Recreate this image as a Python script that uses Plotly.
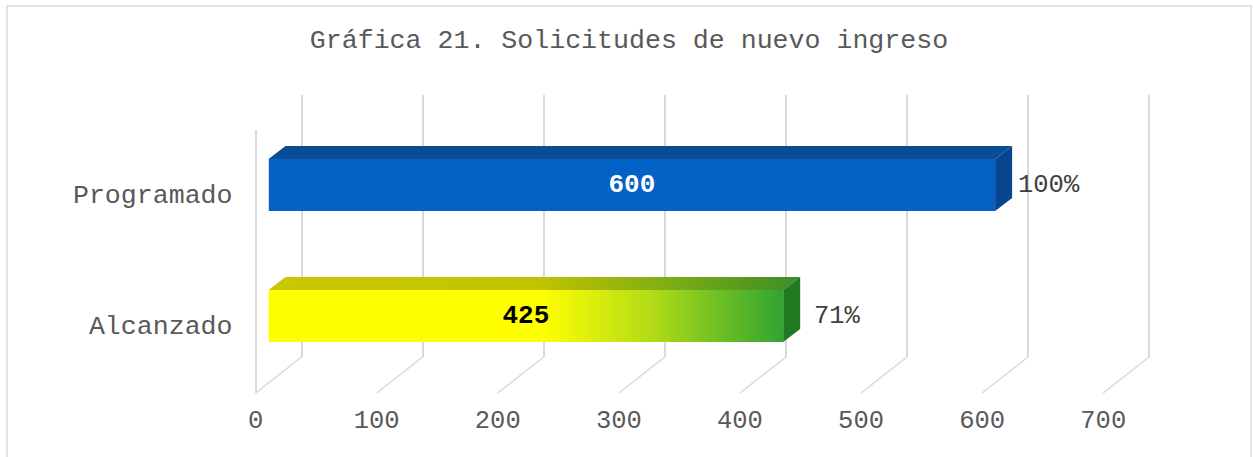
import plotly.graph_objects as go

# ---------------- data ----------------
categories = ["Programado", "Alcanzado"]
values = [600, 425]
value_ticks = [0, 100, 200, 300, 400, 500, 600, 700]
title_text = "Gráfica 21. Solicitudes de nuevo ingreso"

# ---------------- geometry (pixels) ----------------
W, H = 1253, 457
VMAX = 700
PX = 849 / VMAX          # pixels per value unit
ROW = 131                # pixels between category rows
FRONT_LEFT, BAR_LEFT, BACK_LEFT = 254, 267, 300
FRONT_TOP, FRONT_FLOOR = 130, 393
BACK_TOP, BACK_FLOOR = 95, 357
FRONT_ROW0, BAR_ROW0 = 325, 316
BAR_THICK, BAR_DX, BAR_DY = 52, 17, 13
PAD = 6

FONT = "Liberation Mono"
GRAY = "#595959"
GRID = "#d9d9d9"

# styles per bar (front, top, side) ; gradients for the second bar
front_colors = ["#0462c7", "#ffff00"]
top_colors = ["#0a4d97", None]
side_colors = ["#08458f", "#1f7a22"]
front_grad = [None, [[0, "#ffff00"], [0.53, "#ffff00"], [0.74, "#b4dc16"], [1, "#30a431"]]]
top_grad = [None, [[0, "#c9c700"], [0.5, "#c2c300"], [0.75, "#7fae14"], [1, "#3d8c27"]]]
value_text_colors = ["white", "black"]


def xdom(l, r):
    return [l / W, r / W]


def ydom(top, bottom):
    return [1 - bottom / H, 1 - top / H]


def yrng(top, bottom, row0):
    return [(row0 - bottom) / ROW, (row0 - top) / ROW]


ypos = [len(categories) - 1 - i for i in range(len(categories))]
h = BAR_THICK / ROW
ddx = BAR_DX / PX
ddy = BAR_DY / ROW
depth = (BACK_LEFT - FRONT_LEFT) / PX

fig = go.Figure()

# back wall (gridlines) subplot
fig.add_trace(go.Scatter(x=[], y=[], xaxis="x", yaxis="y", showlegend=False, hoverinfo="skip"))

# bars (front faces)
fig.add_trace(go.Bar(
    x=values, y=ypos, orientation="h", width=h,
    marker=dict(color=front_colors, line=dict(width=0)),
    xaxis="x2", yaxis="y2", showlegend=False, hoverinfo="skip",
))

# 3D faces
for i, v in enumerate(values):
    y = ypos[i]
    yt, yb = y + h / 2, y - h / 2
    # top face
    top = dict(
        x=[0, v, v + ddx, ddx, 0], y=[yt, yt, yt + ddy, yt + ddy, yt],
        fill="toself", mode="lines", line=dict(width=0),
        xaxis="x2", yaxis="y2", showlegend=False, hoverinfo="skip",
    )
    if top_grad[i]:
        top["fillgradient"] = dict(type="horizontal", colorscale=top_grad[i])
        top["fillcolor"] = top_grad[i][0][1]
    else:
        top["fillcolor"] = top_colors[i]
    fig.add_trace(go.Scatter(**top))
    # right face
    fig.add_trace(go.Scatter(
        x=[v, v, v + ddx, v + ddx, v], y=[yb, yt, yt + ddy, yb + ddy, yb],
        fill="toself", mode="lines", line=dict(width=0), fillcolor=side_colors[i],
        xaxis="x2", yaxis="y2", showlegend=False, hoverinfo="skip",
    ))
    # gradient front face
    if front_grad[i]:
        fig.add_trace(go.Scatter(
            x=[0, v, v, 0, 0], y=[yb, yb, yt, yt, yb],
            fill="toself", mode="lines", line=dict(width=0),
            fillcolor=front_grad[i][0][1],
            fillgradient=dict(type="horizontal", colorscale=front_grad[i]),
            xaxis="x2", yaxis="y2", showlegend=False, hoverinfo="skip",
        ))

# value labels
fig.add_trace(go.Scatter(
    x=[v / 2 for v in values], y=ypos, mode="text",
    text=[str(v) for v in values],
    textfont=dict(family=FONT, size=26, color=value_text_colors, weight="bold"),
    xaxis="x2", yaxis="y2", showlegend=False, hoverinfo="skip",
))

# front plane subplot
fig.add_trace(go.Scatter(x=[], y=[], xaxis="x3", yaxis="y3", showlegend=False, hoverinfo="skip"))

# percentage annotations
annotations = []
for i, v in enumerate(values):
    annotations.append(dict(
        xref="x2", yref="y2", x=v + ddx, y=ypos[i], xshift=37,
        text=f"{round(v / values[0] * 100)}%", showarrow=False,
        xanchor="center", yanchor="middle",
        font=dict(family=FONT, size=25.5, color="#404040"),
    ))

# floor diagonals
shapes = []
floor_frac = (FRONT_FLOOR - BACK_FLOOR) / (FRONT_FLOOR - FRONT_TOP)
for t in value_ticks:
    shapes.append(dict(
        type="line", xref="x3", yref="y3 domain",
        x0=t, y0=0, x1=t + depth, y1=floor_frac,
        line=dict(color=GRID, width=1.5), layer="below",
    ))
# outer border
shapes.append(dict(
    type="rect", xref="paper", yref="paper",
    x0=5 / W, x1=1251 / W, y0=-0.1, y1=1 - 6 / H,
    line=dict(color=GRID, width=1.5),
))

front_r = BACK_LEFT + VMAX * PX + PAD
fig.update_layout(
    width=W, height=H,
    margin=dict(l=0, r=0, t=0, b=0),
    paper_bgcolor="white", plot_bgcolor="rgba(0,0,0,0)",
    font=dict(family=FONT, color=GRAY),
    title=dict(
        text=title_text, x=629 / W, y=1 - 39 / H, xanchor="center", yanchor="middle",
        font=dict(family=FONT, size=26.6, color=GRAY),
    ),
    showlegend=False,
    barmode="overlay",
    xaxis=dict(
        domain=xdom(BACK_LEFT - PAD, BACK_LEFT + VMAX * PX + PAD),
        range=[-PAD / PX, VMAX + PAD / PX], anchor="y",
        tickvals=value_ticks, showgrid=True, gridcolor=GRID, gridwidth=1.5,
        showticklabels=False, zeroline=False, showline=False, ticks="",
    ),
    yaxis=dict(domain=ydom(BACK_TOP, BACK_FLOOR), range=[0, 1], visible=False, anchor="x"),
    xaxis2=dict(
        domain=xdom(BAR_LEFT, BAR_LEFT + VMAX * PX), range=[0, VMAX],
        visible=False, anchor="y2",
    ),
    yaxis2=dict(
        domain=ydom(100, 385), range=yrng(100, 385, BAR_ROW0), visible=False, anchor="x2",
    ),
    xaxis3=dict(
        domain=xdom(FRONT_LEFT - PAD, front_r),
        range=[-PAD / PX, (front_r - FRONT_LEFT) / PX],
        anchor="y3", tickvals=value_ticks, ticktext=[str(t) for t in value_ticks],
        showgrid=False, zeroline=False, showline=False, ticks="",
        tickfont=dict(family=FONT, size=25.5, color=GRAY), ticklabelstandoff=8,
    ),
    yaxis3=dict(
        domain=ydom(FRONT_TOP, FRONT_FLOOR),
        range=yrng(FRONT_TOP, FRONT_FLOOR, FRONT_ROW0),
        anchor="free", position=FRONT_LEFT / W,
        tickvals=ypos, ticktext=categories,
        showgrid=False, zeroline=False, showline=True, linecolor=GRID, linewidth=1.5,
        ticks="", tickfont=dict(family=FONT, size=26.6, color=GRAY), ticklabelstandoff=17,
    ),
    annotations=annotations,
    shapes=shapes,
)

fig.write_html(
    "out.html",
    config={"displayModeBar": False},
    post_script="document.body.style.margin='0';",
)
